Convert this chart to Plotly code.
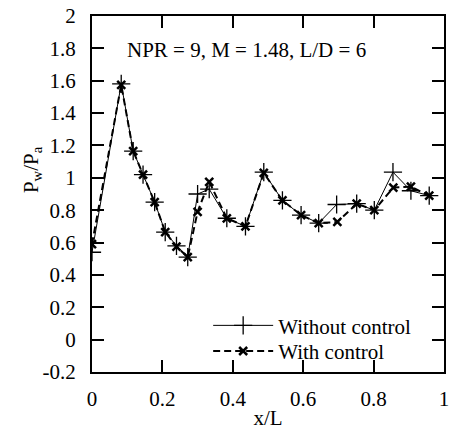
import plotly.graph_objects as go

# Data
x_without = [0.0, 0.083, 0.117, 0.145, 0.178, 0.208, 0.240, 0.272, 0.300, 0.333,
             0.383, 0.436, 0.488, 0.541, 0.594, 0.644, 0.695, 0.752, 0.802, 0.855, 0.906, 0.958]
y_without = [0.54, 1.58, 1.165, 1.02, 0.85, 0.665, 0.58, 0.51, 0.90, 0.93,
             0.75, 0.70, 1.035, 0.86, 0.77, 0.72, 0.835, 0.84, 0.80, 1.035, 0.92, 0.89]

x_with = [0.0, 0.083, 0.117, 0.145, 0.178, 0.208, 0.240, 0.272, 0.300, 0.333,
          0.383, 0.436, 0.488, 0.541, 0.594, 0.644, 0.697, 0.752, 0.802, 0.856, 0.906, 0.958]
y_with = [0.59, 1.575, 1.165, 1.02, 0.85, 0.665, 0.575, 0.51, 0.79, 0.975,
          0.75, 0.70, 1.03, 0.86, 0.77, 0.72, 0.727, 0.84, 0.80, 0.94, 0.945, 0.89]

x_tickvals = [0, 0.2, 0.4, 0.6, 0.8, 1]
x_ticktext = ["0", "0.2", "0.4", "0.6", "0.8", "1"]
y_tickvals = [-0.2, 0, 0.2, 0.4, 0.6, 0.8, 1, 1.2, 1.4, 1.6, 1.8, 2]
y_ticktext = ["-0.2", "0", "0.2", "0.4", "0.6", "0.8", "1", "1.2", "1.4", "1.6", "1.8", "2"]

FONT = "Liberation Serif"

fig = go.Figure()
fig.add_trace(go.Scatter(
    x=x_without, y=y_without, mode="lines+markers", name="Without control",
    line=dict(color="black", width=1),
    marker=dict(symbol="cross-thin-open", size=13, line=dict(color="black", width=1.3)),
    legend="legend",
))
fig.add_trace(go.Scatter(
    x=x_with, y=y_with, mode="lines+markers", name="With control",
    line=dict(color="black", width=2, dash="7px,4px"),
    marker=dict(symbol="x-thin-open", size=8, line=dict(color="black", width=2.5)),
    legend="legend2",
))

axis_common = dict(
    showline=True, linecolor="black", linewidth=2, mirror="ticks",
    ticks="inside", ticklen=12, tickwidth=1.5, tickcolor="black",
    showgrid=False, zeroline=False,
    tickfont=dict(family=FONT, size=21, color="black"),
)

fig.update_xaxes(range=[0, 1], tickvals=x_tickvals, ticktext=x_ticktext,
                 ticklabelstandoff=7,
                 title=dict(text="x/L", font=dict(family=FONT, size=21, color="black"), standoff=0),
                 **axis_common)
fig.update_yaxes(range=[-0.2, 2], tickvals=y_tickvals, ticktext=y_ticktext,
                 ticklabelstandoff=10, **axis_common)

fig.add_annotation(x=-0.215, y=0.568, xref="paper", yref="paper",
                   text="P<sub>w</sub>/P<sub>a</sub>", textangle=-90, showarrow=False,
                   font=dict(family=FONT, size=21, color="black"))
fig.add_annotation(x=0.44, y=1.79, xref="x", yref="y",
                   text="NPR = 9, M = 1.48, L/D = 6", showarrow=False,
                   font=dict(family=FONT, size=21, color="black"))

legend_common = dict(xanchor="left", yanchor="middle", bgcolor="rgba(0,0,0,0)",
                     itemwidth=60, font=dict(family=FONT, size=21, color="black"))

fig.update_layout(
    width=453, height=430,
    margin=dict(l=92, r=4, t=16, b=53),
    paper_bgcolor="white", plot_bgcolor="white",
    showlegend=True,
    legend=dict(x=0.33, y=0.13, **legend_common),
    legend2=dict(x=0.33, y=0.058, **legend_common),
)

fig.write_html("out.html", config={"displayModeBar": False},
               post_script="document.body.style.margin='0';document.body.style.overflow='hidden';")
